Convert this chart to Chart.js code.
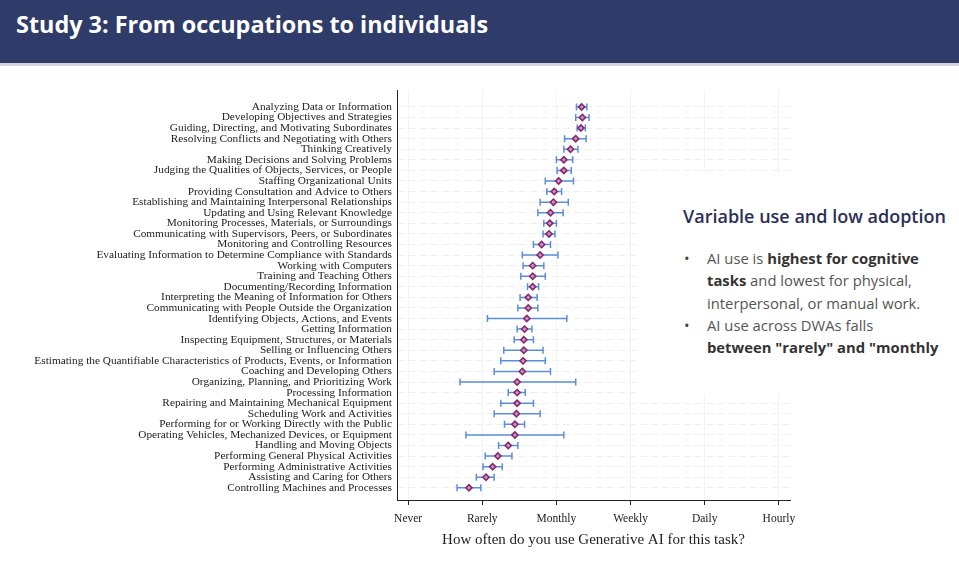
<!DOCTYPE html>
<html>
<head>
<meta charset="utf-8">
<script src="https://cdn.jsdelivr.net/npm/chart.js@4"></script>
<style>
  html, body { margin: 0; padding: 0; background: #fff; }
  body { width: 959px; height: 567px; position: relative; overflow: hidden; }
  .header {
    position: absolute; left: 0; top: 0; width: 959px; height: 63px;
    background: #2f3b69; border-bottom: 3px solid #d3d6de; z-index: 2;
  }
  .header h1 {
    margin: 0; position: absolute; left: 16px; top: 8px;
    font: 700 23.4px "Open Sans", sans-serif; color: #fff;
  }
  .plot { position: absolute; left: 0; top: 0; width: 830px; height: 567px; }
  .note {
    position: absolute; left: 640px; top: 172px; width: 319px; height: 222px;
    background: #fff; z-index: 1; font-family: "Open Sans", sans-serif;
  }
  .note h2 {
    position: absolute; left: 43px; top: 32px; margin: 0; white-space: nowrap;
    font-weight: 600; font-size: 18px; color: #2a2f58;
  }
  .note ul {
    position: absolute; left: 0; top: 75px; margin: 0; padding: 0; list-style: none;
    font-size: 14.8px; line-height: 22.3px; color: #555; white-space: nowrap;
  }
  .note li { position: relative; padding-left: 67px; }
  .note li::before { content: "•"; position: absolute; left: 44px; color: #444; }
  .note b { color: #333; font-weight: 700; }
</style>
</head>
<body>
<div class="header"><h1>Study 3: From occupations to individuals</h1></div>
<div class="plot"><canvas id="chart"></canvas></div>
<div class="note">
  <h2>Variable use and low adoption</h2>
  <ul>
    <li>AI use is <b>highest for cognitive</b><br><b>tasks</b> and lowest for physical,<br>interpersonal, or manual work.</li>
    <li>AI use across DWAs falls<br><b>between "rarely" and "monthly</b></li>
  </ul>
</div>
<script>
const tasks = [
  "Analyzing Data or Information",
  "Developing Objectives and Strategies",
  "Guiding, Directing, and Motivating Subordinates",
  "Resolving Conflicts and Negotiating with Others",
  "Thinking Creatively",
  "Making Decisions and Solving Problems",
  "Judging the Qualities of Objects, Services, or People",
  "Staffing Organizational Units",
  "Providing Consultation and Advice to Others",
  "Establishing and Maintaining Interpersonal Relationships",
  "Updating and Using Relevant Knowledge",
  "Monitoring Processes, Materials, or Surroundings",
  "Communicating with Supervisors, Peers, or Subordinates",
  "Monitoring and Controlling Resources",
  "Evaluating Information to Determine Compliance with Standards",
  "Working with Computers",
  "Training and Teaching Others",
  "Documenting/Recording Information",
  "Interpreting the Meaning of Information for Others",
  "Communicating with People Outside the Organization",
  "Identifying Objects, Actions, and Events",
  "Getting Information",
  "Inspecting Equipment, Structures, or Materials",
  "Selling or Influencing Others",
  "Estimating the Quantifiable Characteristics of Products, Events, or Information",
  "Coaching and Developing Others",
  "Organizing, Planning, and Prioritizing Work",
  "Processing Information",
  "Repairing and Maintaining Mechanical Equipment",
  "Scheduling Work and Activities",
  "Performing for or Working Directly with the Public",
  "Operating Vehicles, Mechanized Devices, or Equipment",
  "Handling and Moving Objects",
  "Performing General Physical Activities",
  "Performing Administrative Activities",
  "Assisting and Caring for Others",
  "Controlling Machines and Processes",
]
const means = [2.34, 2.35, 2.33, 2.26, 2.19, 2.10, 2.10, 2.03, 1.97, 1.96, 1.92, 1.91, 1.90,
  1.80, 1.78, 1.68, 1.68, 1.68, 1.62, 1.62, 1.60, 1.57, 1.56, 1.56, 1.55, 1.54,
  1.47, 1.47, 1.47, 1.46, 1.44, 1.44, 1.35, 1.21, 1.14, 1.05, 0.82]
const lows = [2.27, 2.26, 2.28, 2.11, 2.10, 2.00, 2.01, 1.85, 1.87, 1.78, 1.75, 1.83, 1.82,
  1.69, 1.54, 1.55, 1.52, 1.61, 1.51, 1.48, 1.07, 1.47, 1.43, 1.29, 1.25, 1.16,
  0.70, 1.35, 1.25, 1.16, 1.30, 0.78, 1.22, 1.04, 1.01, 0.92, 0.66]
const highs = [2.41, 2.44, 2.39, 2.40, 2.29, 2.22, 2.20, 2.23, 2.07, 2.16, 2.09, 2.00, 1.98,
  1.92, 2.02, 1.83, 1.85, 1.76, 1.74, 1.75, 2.14, 1.67, 1.69, 1.82, 1.85, 1.92,
  2.26, 1.58, 1.69, 1.78, 1.57, 2.10, 1.48, 1.40, 1.27, 1.16, 0.98]
const freqLabels = ["Never", "Rarely", "Monthly", "Weekly", "Daily", "Hourly"]

const serif = "'Liberation Serif', 'DejaVu Serif', serif"

// horizontal confidence bars with caps, drawn under the diamonds
const errorBars = {
  id: "errorBars",
  beforeDatasetsDraw(chart) {
    const { ctx, scales: { x, y } } = chart
    ctx.save()
    ctx.strokeStyle = "#5b8dd9"
    ctx.lineWidth = 1.5
    for (let i = 0; i < tasks.length; i++) {
      const py = y.getPixelForValue(i)
      const x1 = x.getPixelForValue(lows[i])
      const x2 = x.getPixelForValue(highs[i])
      ctx.beginPath()
      ctx.moveTo(x1, py)
      ctx.lineTo(x2, py)
      ctx.moveTo(x1, py - 3.5)
      ctx.lineTo(x1, py + 3.5)
      ctx.moveTo(x2, py - 3.5)
      ctx.lineTo(x2, py + 3.5)
      ctx.stroke()
    }
    ctx.restore()
  },
}

new Chart(document.getElementById("chart"), {
  type: "scatter",
  data: {
    datasets: [{
      data: means.map((m, i) => ({ x: m, y: i })),
      pointStyle: "rectRot",
      pointRadius: 3.1,
      pointHoverRadius: 3.1,
      backgroundColor: "#cc95c2",
      borderColor: "#842a6e",
      borderWidth: 1.6,
    }],
  },
  options: {
    responsive: true,
    maintainAspectRatio: false,
    animation: false,
    layout: { padding: { top: 90, right: 40, bottom: 8, left: 0 } },
    plugins: { legend: { display: false }, tooltip: { enabled: false } },
    scales: {
      x: {
        type: "linear",
        min: -0.15,
        max: 5.15,
        afterBuildTicks: (s) => { s.ticks = freqLabels.map((_, i) => ({ value: i })) },
        afterFit: (s) => { s.height = 59 },
        ticks: {
          callback: (v) => freqLabels[v],
          font: { family: serif, size: 11.5 },
          color: "#222",
          padding: 7,
          maxRotation: 0,
        },
        grid: { color: "#f3f3f3", tickColor: "#222", tickLength: 5 },
        border: { color: "#222", width: 1 },
        title: {
          display: true,
          text: "How often do you use Generative AI for this task?",
          font: { family: serif, size: 15 },
          color: "#222",
          padding: { top: 4, bottom: 10 },
        },
      },
      y: {
        type: "linear",
        reverse: true,
        min: -1.6,
        max: 37.15,
        afterBuildTicks: (s) => { s.ticks = tasks.map((_, i) => ({ value: i })) },
        afterFit: (s) => { s.width = 397 },
        ticks: {
          callback: (v) => tasks[v],
          font: { family: serif, size: 11.3 },
          color: "#222",
          padding: 5,
          autoSkip: false,
        },
        grid: { color: "#efefef", drawTicks: false },
        border: { color: "#222", width: 1, dash: [7, 4] },
      },
    },
  },
  plugins: [errorBars],
})
</script>
</body>
</html>
